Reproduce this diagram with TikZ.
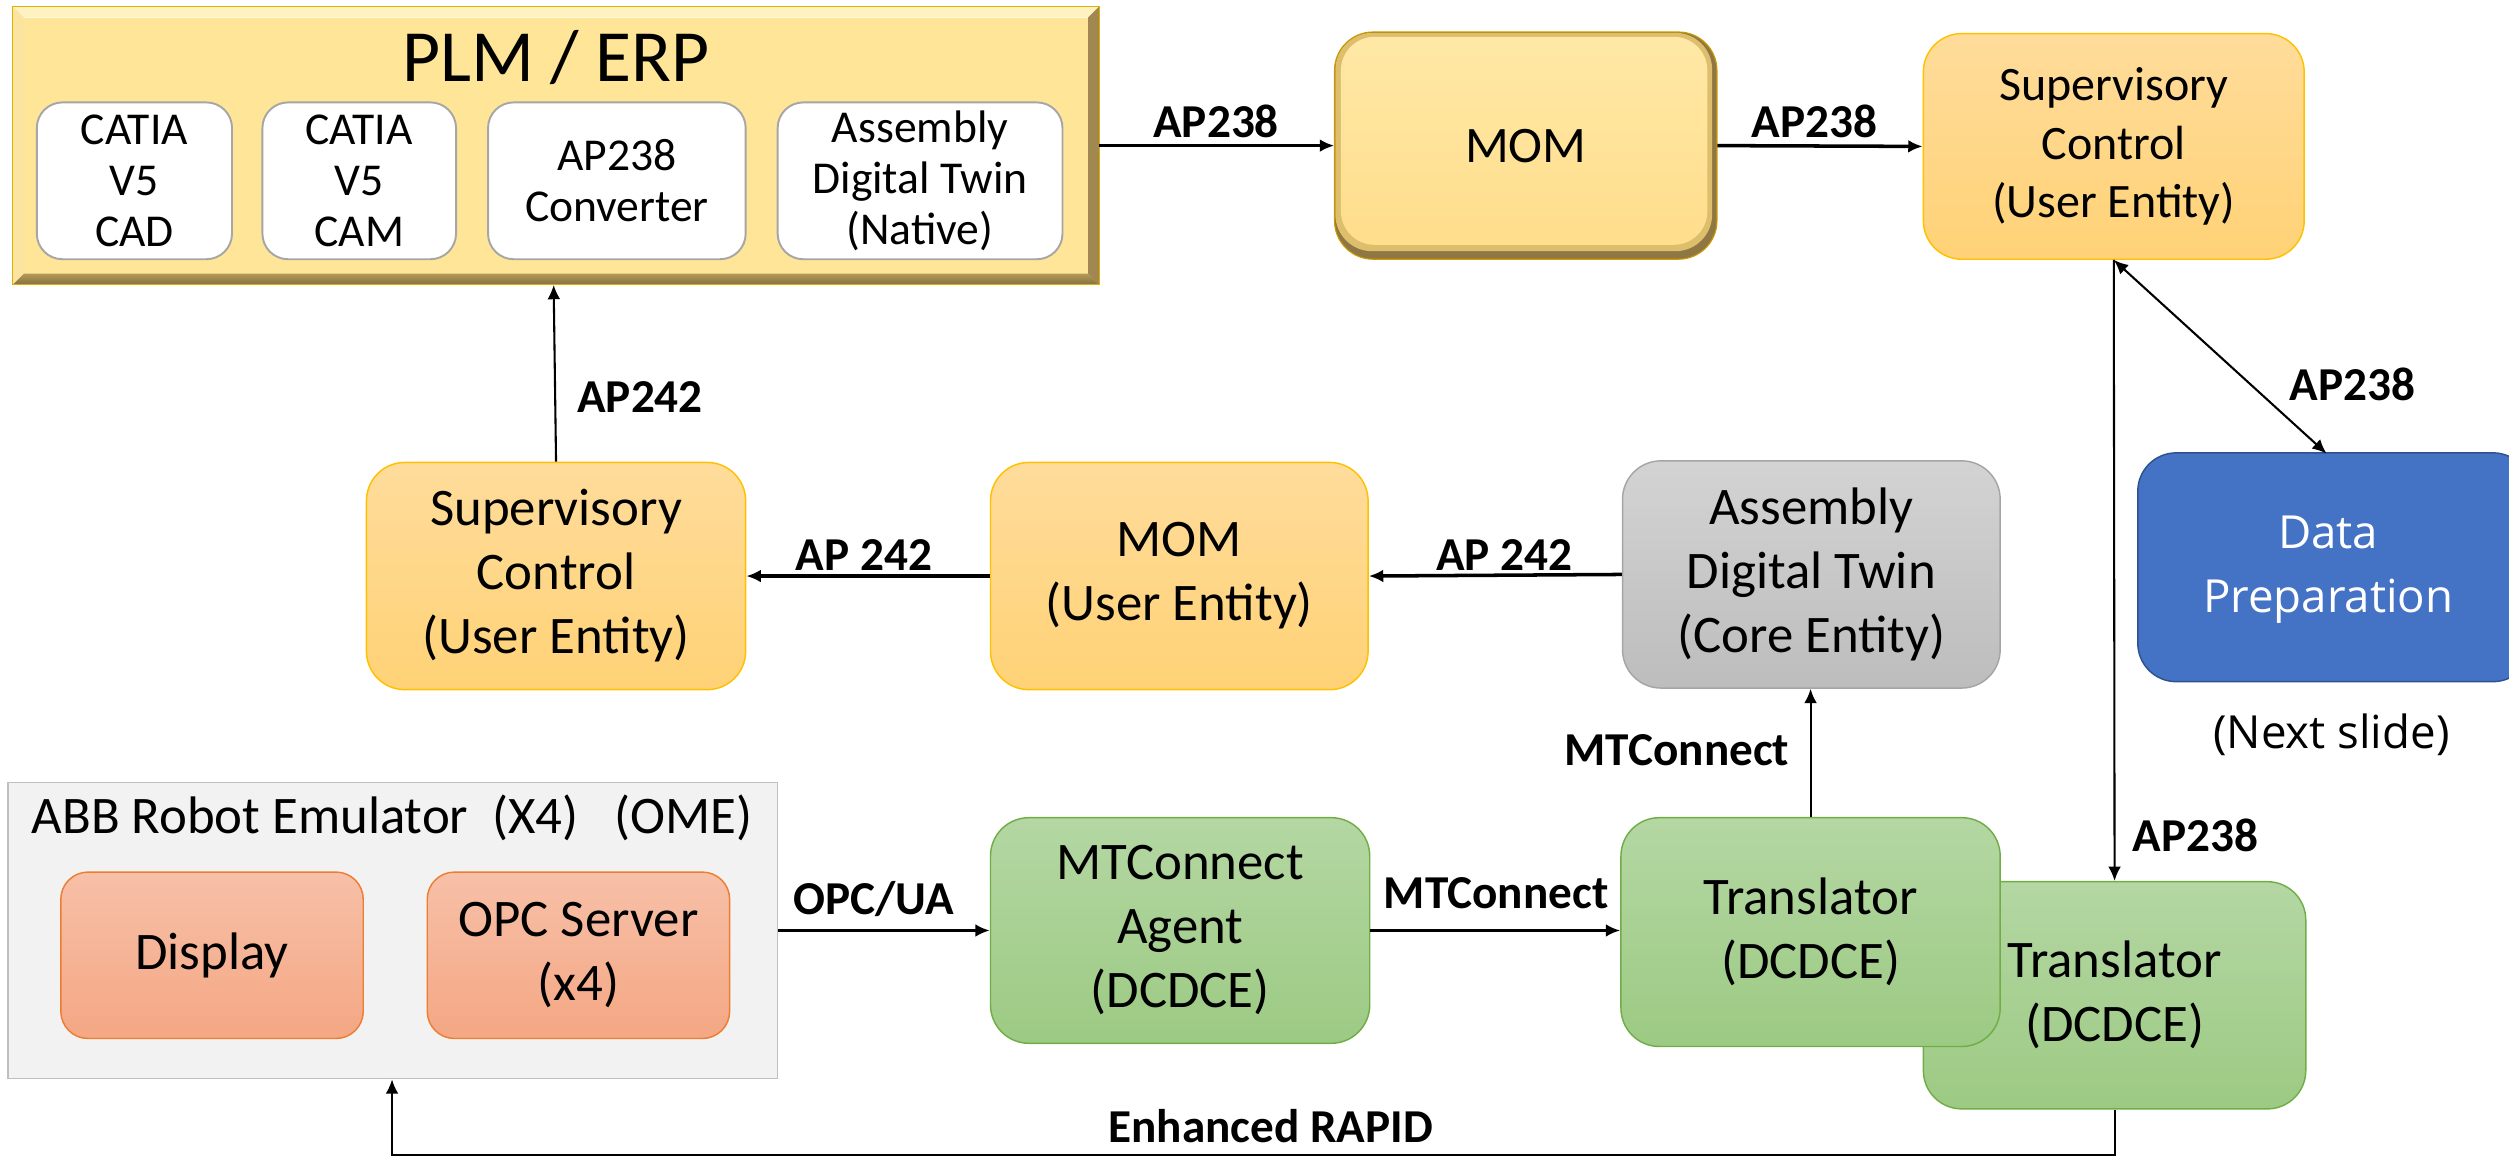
\documentclass[tikz,border=0pt]{standalone}
\usepackage{fontspec}
\setmainfont{Carlito}
\newfontfamily\dpfont{Open Sans}
\usetikzlibrary{arrows.meta,shadings}
\definecolor{goldT}{HTML}{FFDC9B}
\definecolor{goldB}{HTML}{FFD276}
\definecolor{goldE}{HTML}{FFC000}
\definecolor{greyT}{HTML}{D3D3D3}
\definecolor{greyB}{HTML}{BDBDBD}
\definecolor{greyE}{HTML}{A5A5A5}
\definecolor{grnT}{HTML}{B4D7A3}
\definecolor{grnB}{HTML}{9CCA83}
\definecolor{grnE}{HTML}{70AD47}
\definecolor{orgT}{HTML}{F7C0A8}
\definecolor{orgB}{HTML}{F4A783}
\definecolor{orgE}{HTML}{ED7D31}
\definecolor{bluF}{HTML}{4472C4}
\definecolor{bluE}{HTML}{2F528F}
\definecolor{abbF}{HTML}{F2F2F2}
\definecolor{abbE}{HTML}{BFBFBF}
\definecolor{innE}{HTML}{A6A6A6}
\definecolor{plmFace}{HTML}{FFE597}
\definecolor{plmTop}{HTML}{FFF2C2}
\definecolor{plmLeft}{HTML}{FBE3A0}
\definecolor{plmRight}{HTML}{A08850}
\definecolor{plmBotT}{HTML}{B49A58}
\definecolor{plmBotB}{HTML}{84703F}
\definecolor{plmEdge}{HTML}{E0B000}
\definecolor{momDark}{HTML}{8F7743}
\definecolor{momMid}{HTML}{DDBE6C}
\definecolor{momT}{HTML}{FFE8A6}
\definecolor{momB}{HTML}{FFDE8C}
\newcommand\fsMain{\fontsize{33}{40}\selectfont}
\newcommand\fsTop{\fontsize{30}{36.5}\selectfont}
\newcommand\fsInner{\fontsize{28.5}{32}\selectfont}
\newcommand\fsLbl{\bfseries\fontsize{29.5}{34}\selectfont}
\begin{document}
\begin{tikzpicture}[x=1pt,y=-1pt,
  rbox/.style={rounded corners=24pt, align=center, inner sep=0pt, line width=0.9pt, font=\fsMain},
  goldbox/.style={rbox, top color=goldT, bottom color=goldB, draw=goldE},
  greybox/.style={rbox, top color=greyT, bottom color=greyB, draw=greyE},
  grnbox/.style={rbox, top color=grnT, bottom color=grnB, draw=grnE},
  orgbox/.style={rbox, rounded corners=17pt, top color=orgT, bottom color=orgB, draw=orgE},
  innbox/.style={rbox, rounded corners=16pt, fill=white, draw=innE, line width=1.2pt, minimum height=98pt, font=\fsInner},
  lbl/.style={font=\fsLbl, inner sep=0pt},
  arr/.style={-{Latex[length=9pt,width=8pt]}},
  thk/.style={line width=2.2pt},
  thn/.style={line width=1.3pt}]
\useasboundingbox (0,0) rectangle (1568,722.4);

% ---------- PLM / ERP bevel box ----------
\fill[plmFace] (15,11) rectangle (680,171);
\fill[plmTop] (8,4) -- (687,4) -- (680,11) -- (15,11) -- cycle;
\fill[plmLeft] (8,4) -- (15,11) -- (15,171) -- (8,178) -- cycle;
\fill[plmRight] (687,4) -- (687,178) -- (680,171) -- (680,11) -- cycle;
\shade[top color=plmBotT, bottom color=plmBotB] (8,178) -- (15,171) -- (680,171) -- (687,178) -- cycle;
\draw[plmEdge, line width=0.8pt] (8,4) rectangle (687,178);
\node[inner sep=0pt, font=\fontsize{46}{50}\selectfont] (plmT) at (347.5,36) {PLM / ERP};
\node[innbox, minimum width=122pt] (cad) at (84,113) {CATIA\\V5\\CAD};
\node[innbox, minimum width=121pt] (cam) at (224.5,113) {CATIA\\V5\\CAM};
\node[innbox, minimum width=161pt] (conv) at (385.5,113) {AP238\\Converter};
\node[innbox, minimum width=178pt] (adtn) at (575,113) {Assembly\\Digital Twin\\(Native)};
\coordinate (plmE) at (687,91);
\coordinate (plmS) at (346,178);

% ---------- MOM (top, bevelled) ----------
\fill[momDark, rounded corners=24pt] (834,20) rectangle (1073,162);
\fill[momMid, rounded corners=23pt] (834.5,20.5) rectangle (1070,157);
\shade[top color=momT, bottom color=momB, rounded corners=21pt] (838,23) rectangle (1067,153);
\draw[goldE!80!black, line width=0.7pt, rounded corners=24pt] (834,20) rectangle (1073,162);
\node[inner sep=0pt, minimum width=239pt, minimum height=142pt, font=\fontsize{32}{38}\selectfont] (momT) at (953.5,91) {MOM};

% ---------- Supervisory control (top) ----------
\node[goldbox, minimum width=238pt, minimum height=141pt, font=\fsTop] (supT) at (1321,91.5) {Supervisory\\Control\\(User Entity)};

% ---------- Data preparation ----------
\node[rbox, fill=bluF, draw=bluE, minimum width=246pt, minimum height=143pt] (dp) at (1459,354.5) {};
\node[inner sep=0pt, text=white, align=center, font=\dpfont\fontsize{28.5}{40}\selectfont] (dpT) at (1455,356) {Data\\Preparation};
\node[inner sep=0pt, font=\dpfont\fontsize{28.5}{34}\selectfont] (next) at (1457,459) {(Next slide)};

% ---------- middle row ----------
\node[goldbox, minimum width=237pt, minimum height=142pt] (supM) at (347.5,360) {Supervisory\\Control\\(User Entity)};
\node[goldbox, minimum width=236pt, minimum height=142pt] (momM) at (737,360) {MOM\\(User Entity)};
\node[greybox, minimum width=236pt, minimum height=142pt] (adt) at (1132,359) {Assembly\\Digital Twin\\(Core Entity)};

% ---------- ABB emulator ----------
\node[draw=abbE, fill=abbF, line width=1pt, minimum width=481pt, minimum height=185pt, inner sep=0pt] (abb) at (245.5,581.5) {};
\node[inner sep=0pt, font=\fsMain, anchor=base] (abbT) at (245,521) {ABB Robot Emulator~~(X4)~~~(OME)};
\node[orgbox, minimum width=189pt, minimum height=104pt] (disp) at (132.5,597) {Display};
\node[orgbox, minimum width=189pt, minimum height=104pt] (opc) at (361.5,597) {OPC Server\\(x4)};

% ---------- green row ----------
\node[grnbox, minimum width=237pt, minimum height=141pt] (agent) at (737.5,581.5) {MTConnect\\Agent\\(DCDCE)};
\node[grnbox, minimum width=239pt, minimum height=142pt] (tr2) at (1321.5,622) {Translator\\(DCDCE)};
\node[grnbox, minimum width=237pt, minimum height=143pt] (tr1) at (1131.5,582.5) {Translator\\(DCDCE)};

% ---------- connectors ----------
\draw[thk, arr] (plmE) -- (momT.west);
\node[lbl] (l1) at (760,76) {AP238};
\draw[thk, arr] (momT.east) -- (supT.west);
\node[lbl] (l2) at (1134,76) {AP238};

\draw[thn, arr] (supT.south) -- (tr2.north);
\node[lbl] (l3) at (1372,522) {AP238};
\draw[thn, {Latex[length=9pt,width=8pt]}-{Latex[length=9pt,width=8pt]}] (supT.south) -- (1454,283.5) coordinate (dpN);
\node[lbl] (l4) at (1470,240) {AP238};

\draw[thn, arr] (supM.north) -- (plmS);
\node[lbl] (l5) at (400,248) {AP242};
\draw[thk, arr] (momM.west) -- (supM.east);
\node[lbl] (l6) at (540,347) {AP 242};
\draw[thk, arr] (adt.west) -- (momM.east);
\node[lbl] (l7) at (940,347) {AP 242};

\draw[thn, arr] (tr1.north) -- (adt.south -| tr1.north);
\node[lbl] (l8) at (1048,469) {MTConnect};

\draw[thk, arr] (abb.east |- agent.west) -- (agent.west);
\node[lbl] (l9) at (546,562) {OPC/UA};
\draw[thk, arr] (agent.east) -- (tr1.west |- agent.east);
\node[lbl] (l10) at (935,558) {MTConnect};

\coordinate (bR) at (1321.5,721.8);
\coordinate (bL) at (245,721.8);
\draw[thn, arr] (tr2.south) -- (bR) -- (bL) -- (abb.south -| bL);
\node[lbl] (l11) at (794,704) {Enhanced RAPID};
\end{tikzpicture}
\end{document}
